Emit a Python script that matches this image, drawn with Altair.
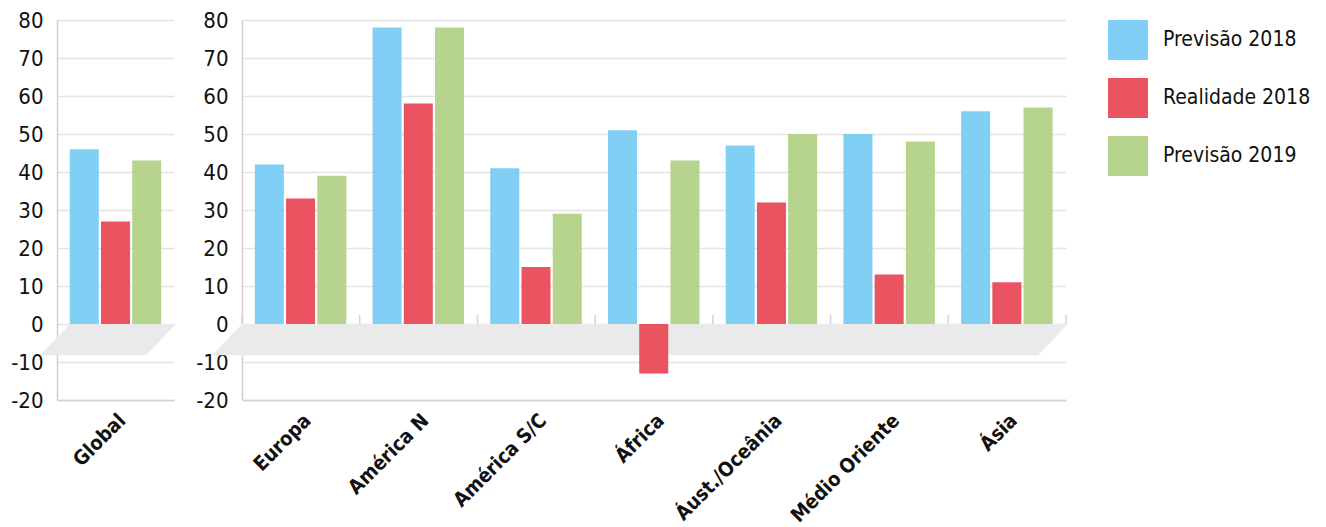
import altair as alt
import pandas as pd

# ---- data ----
regions = ["Europa", "América N", "América S/C", "África", "Áust./Oceânia", "Médio Oriente", "Ásia"]
series = ["Previsão 2018", "Realidade 2018", "Previsão 2019"]
prev2018 = [42, 78, 41, 51, 47, 50, 56]
real2018 = [33, 58, 15, -13, 32, 13, 11]
prev2019 = [39, 78, 29, 43, 50, 48, 57]
global_cat = ["Global"]
global_vals = [46, 27, 43]
colors = ["#81CFF5", "#EA5360", "#B6D48D"]
y_ticks = list(range(-20, 81, 10))

# decorative "floor" depth (in y units)
floor_depth = 8.2

YFONT = "Liberation Sans Narrow, DejaVu Sans Condensed, sans-serif"
XFONT = "DejaVu Sans Condensed, sans-serif"


def make_df(cats, vals_by_series):
    rows = []
    for s, vals in zip(series, vals_by_series):
        for c, v in zip(cats, vals):
            rows.append({"cat": c, "serie": s, "value": v})
    return pd.DataFrame(rows)


def floor_df(left, right, slant):
    return pd.DataFrame({
        "px": [left, left + slant, right - slant, right],
        "top": [-floor_depth, 0, 0, 0],
        "bot": [-floor_depth, -floor_depth, -floor_depth, 0],
    })


def y_axis():
    return alt.Axis(values=y_ticks, ticks=False, grid=True, gridColor="#E4E4E4",
                    gridWidth=1.5, domainColor="#D0D0D0", domainWidth=1.5,
                    labelFont=YFONT, labelFontSize=22, labelColor="#111111",
                    labelPadding=14, labelExpr="'' + datum.value", title=None)


def panel(df, cats, width, fl, n_ticks, show_ticks):
    yscale = alt.Scale(domain=[-20, 80], nice=False, zero=False)
    floor = alt.Chart(fl).mark_area(color="#EAEAEA", interpolate="linear").encode(
        x=alt.X("px:Q", scale=alt.Scale(domain=[0, width], nice=False, zero=False), axis=None),
        y=alt.Y("top:Q", scale=yscale, axis=y_axis(), title=None),
        y2="bot:Q",
    )
    bars = alt.Chart(df).mark_bar().encode(
        x=alt.X("cat:N", sort=cats, title=None,
                scale=alt.Scale(paddingInner=0.218, paddingOuter=0.109),
                axis=alt.Axis(labelAngle=-45, ticks=False, domainColor="#D0D0D0",
                              domainWidth=1.5, labelFont=XFONT, labelFontSize=20,
                              labelFontWeight="bold", labelColor="#111111",
                              labelPadding=10)),
        xOffset=alt.XOffset("serie:N", sort=series, scale=alt.Scale(paddingInner=0.07)),
        y=alt.Y("value:Q", scale=yscale, title=None, axis=y_axis()),
        color=alt.Color("serie:N", sort=series,
                        scale=alt.Scale(domain=series, range=colors),
                        legend=alt.Legend(title=None, orient="right", symbolType="square",
                                          symbolSize=1600, symbolStrokeWidth=0,
                                          labelFont=YFONT, labelFontSize=21,
                                          labelColor="#111111", rowPadding=18,
                                          labelOffset=15, offset=39, padding=0)),
    )
    layers = [floor]
    if show_ticks:
        tk = pd.DataFrame({"b": list(range(0, n_ticks + 1)), "y0": 0, "y1": 2.4})
        ticks = alt.Chart(tk).mark_rule(color="#D5D5D5", strokeWidth=1.5).encode(
            x=alt.X("b:Q", scale=alt.Scale(domain=[0, n_ticks], nice=False, zero=False), axis=None),
            y=alt.Y("y0:Q", scale=yscale, axis=y_axis(), title=None),
            y2="y1:Q",
        )
        layers.append(ticks)
    layers.append(bars)
    return alt.layer(*layers).resolve_scale(x="independent").properties(width=width, height=380)


gdf = make_df(global_cat, [[v] for v in global_vals])
rdf = make_df(regions, [prev2018, real2018, prev2019])

left = panel(gdf, global_cat, 117, floor_df(-17, 119, 30), 1, False)
right = panel(rdf, regions, 824, floor_df(-30, 826, 30), 7, True)

chart = alt.hconcat(left, right, spacing=19).configure_view(stroke=None).properties(
    padding={"top": 1, "left": 2, "right": 0, "bottom": 0}
)

chart.save("out.html", embed_options={"renderer": "svg", "actions": False})
